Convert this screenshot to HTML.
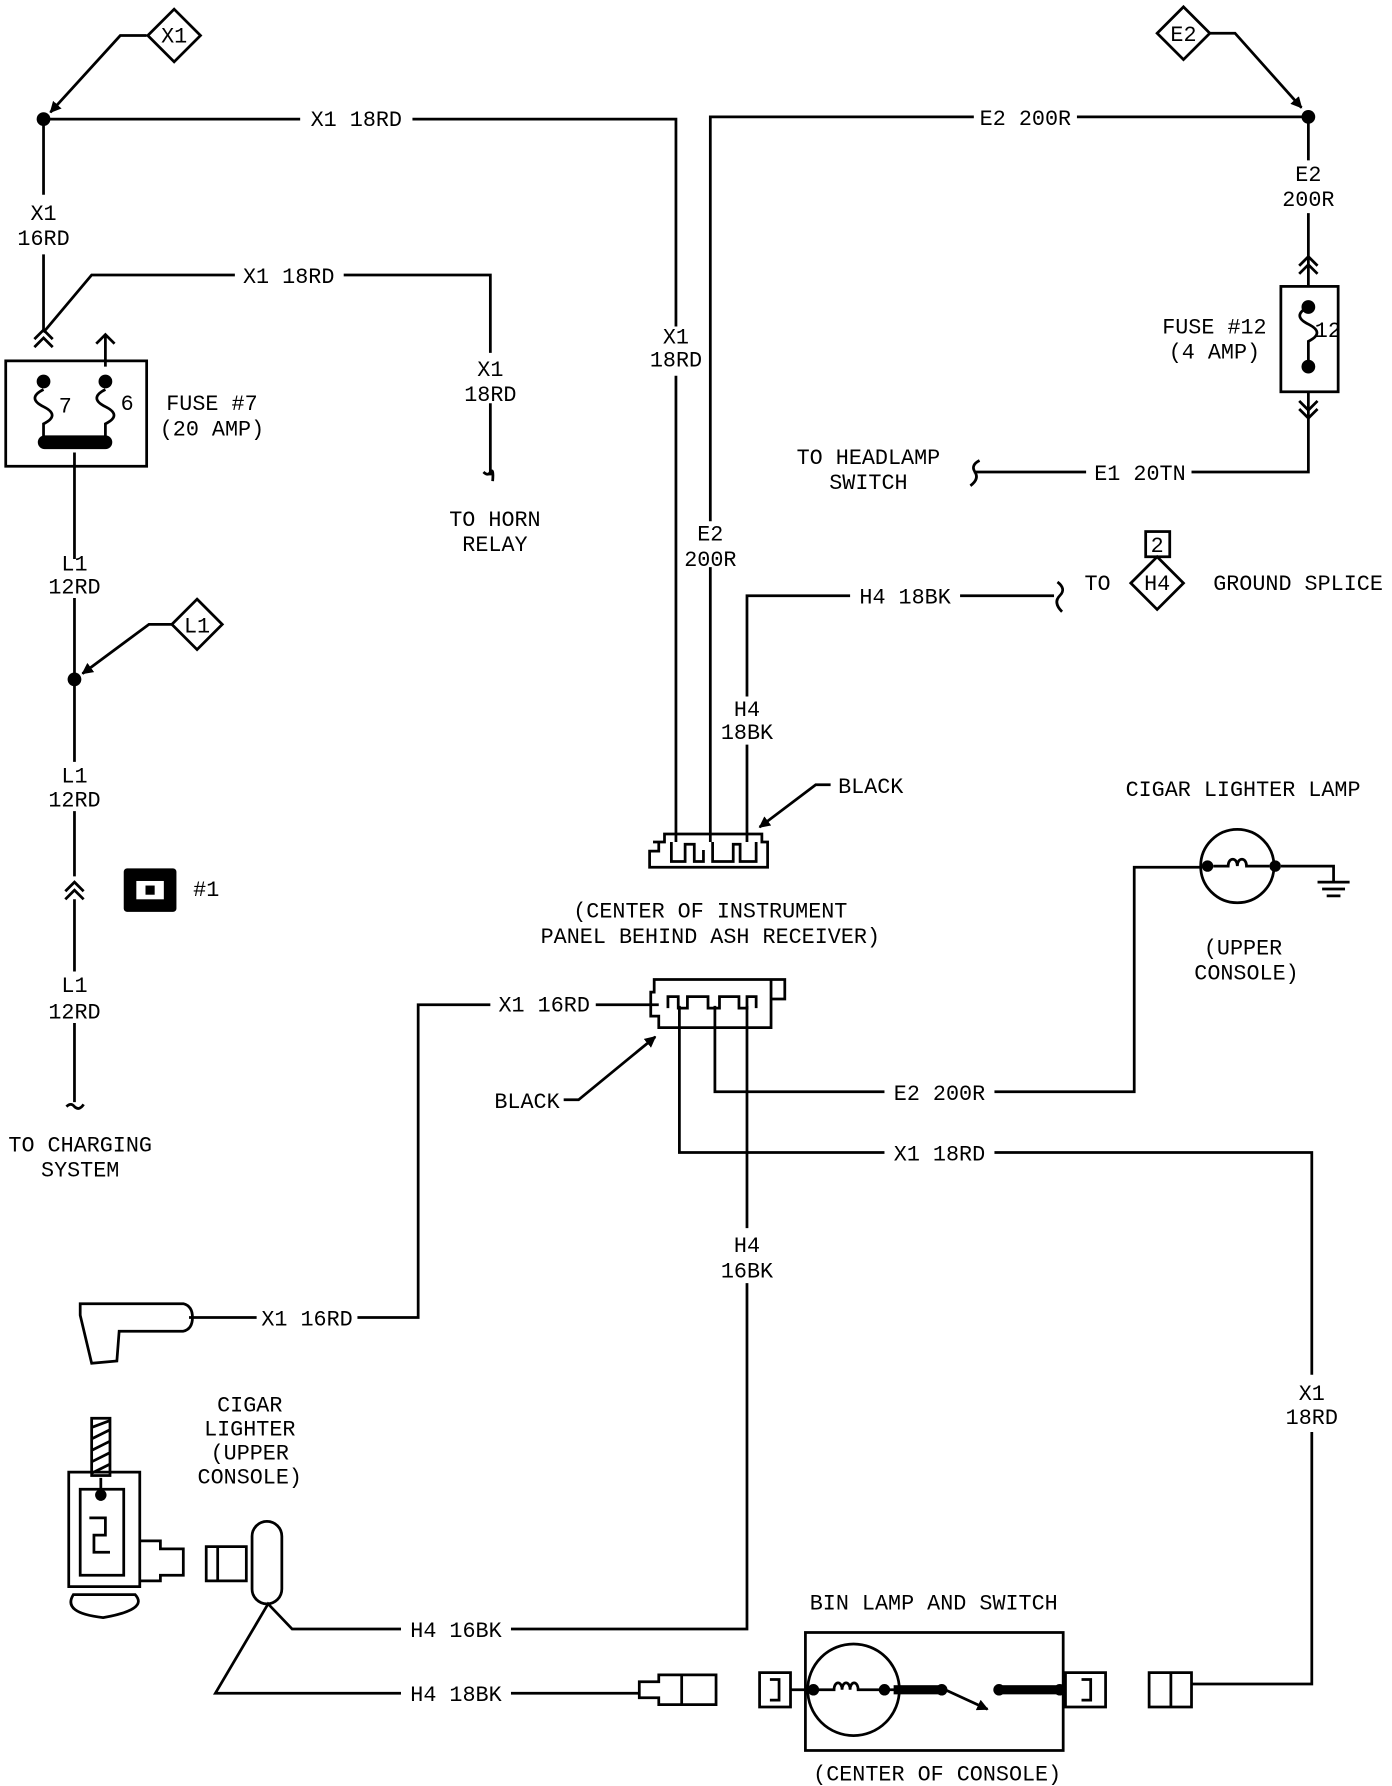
<!DOCTYPE html>
<html><head><meta charset="utf-8"><style>
html,body{margin:0;padding:0;background:#fff}
svg{display:block}
text{font-family:"Liberation Mono",monospace;font-size:19px;fill:#000}
</style></head><body>
<svg width="1392" height="1786" viewBox="0 0 1215 1559" preserveAspectRatio="none" xmlns="http://www.w3.org/2000/svg">
<defs>
<marker id="ah" markerWidth="10" markerHeight="10" refX="9" refY="5" orient="auto" markerUnits="userSpaceOnUse"><path d="M0,0 L10,5 L0,10 z" fill="#000"/></marker>
</defs>
<g stroke="#000" stroke-width="2.4" fill="none">
<path d="M152,8 L175,31 L152,54 L129,31 z"/>
<path d="M128,31 L105,31 L44,98" marker-end="url(#ah)"/>
<path d="M38,104 H262 M360,104 H590 V285 M590,328 V735"/>
<path d="M38,104 V170 M38,222 V290"/>
<path d="M30,296 L38,288 L46,296 M30,303 L38,295 L46,303"/>
<path d="M38,290 L80,240 H205 M300,240 H428 V308 M428,352 V415"/>
<path d="M422,412 q4,4 6,0 q3,-4 2,8"/>
<path d="M84,300 L92,292 L100,300 M92,292 V320"/>
<rect x="5" y="315" width="123" height="92"/>
<path d="M38,340 c-10,5 -10,10 0,15 c10,5 10,10 0,15 V382 M92,340 c-10,5 -10,10 0,15 c10,5 10,10 0,15 V382"/>
<path d="M65,395 V488 M65,522 V665 M65,708 V765 M65,785 V848 M65,893 V962"/>
<path d="M57,778 L65,770 L73,778 M57,785 L65,777 L73,785"/>
<path d="M58,966 q4,-4 7,0 q4,4 8,-2"/>
<path d="M172,523 L194,545 L172,567 L150,545 z"/>
<path d="M150,545 L130,545 L72,588" marker-end="url(#ah)"/>
<path d="M1033,6 L1056,29 L1033,52 L1010,29 z"/>
<path d="M1056,29 L1078,29 L1136,94" marker-end="url(#ah)"/>
<path d="M620,735 V495 M620,455 V102 H850 M940,102 H1142 V140 M1142,186 V250"/>
<path d="M1134,232 L1142,224 L1150,232 M1134,239 L1142,231 L1150,239"/>
<rect x="1118" y="250" width="50" height="92"/>
<path d="M1142,268 c-10,5 -10,10 0,15 c10,5 10,10 0,15 V320"/>
<path d="M1142,342 V412 H1040 M948,412 H850"/>
<path d="M1134,350 L1142,358 L1150,350 M1134,357 L1142,365 L1150,357"/>
<path d="M855,402 q-8,4 -4,10 q4,6 -4,12"/>
<path d="M652,735 V650 M652,608 V520 H742 M838,520 H920"/>
<path d="M923,508 q8,6 2,12 q-6,6 2,14"/>
<path d="M1010,486 L1033,509 L1010,532 L987,509 z"/>
<rect x="1000" y="464" width="21" height="22"/>
<path d="M570,735 H580 V728 H665 V735 H670 V757 H567 V743 H575 V735"/>
<path d="M586,735 V752 H598 V737 H606 V752 H614 V742 M622,735 V752 H640 V737 H646 V752 H660 V735"/>
<path d="M725,685 H712 L663,722" marker-end="url(#ah)"/>
<path d="M571,855 H673 V897 H575 V887 H568 V866 H571 z M673,855 H685 V872 H673"/>
<path d="M583,880 V870 H592 V880 H600 V870 H618 V880 H628 V870 H645 V880 H652 V870 H660 V880"/>
<path d="M520,877 H575 M428,877 H365 V1150 H312 M224,1150 H165"/>
<path d="M492,960 H505 L572,905" marker-end="url(#ah)"/>
<path d="M624,878 V953 H772 M868,953 H990 V757 H1048"/>
<path d="M593,878 V1006 H772 M868,1006 H1145 V1200 M1145,1250 V1470 H1040"/>
<path d="M652,878 V1072 M652,1120 V1422 H446 M350,1422 H255 L234,1400 L188,1478 H350 M446,1478 H558"/>
<circle cx="1080" cy="756" r="32"/>
<path d="M1059,756 H1072 c0,-8 8,-8 8,0 c0,-8 8,-8 8,0 H1108"/>
<path d="M1118,756 H1164 V770 M1150,770 H1178 M1154,776 H1174 M1158,782 H1170"/>
<path d="M70,1138 H160 Q168,1140 168,1150 Q168,1160 160,1162 H104 L102,1188 L80,1190 L70,1148 z"/>
<rect x="80" y="1238" width="16" height="50"/>
<path d="M80,1246 L96,1240 M80,1256 L96,1248 M80,1266 L96,1258 M80,1276 L96,1268 M80,1286 L96,1278"/>
<path d="M60,1285 H122 V1385 H60 z M88,1290 V1310 M70,1300 H108 V1375 H70 z"/>
<path d="M78,1325 H92 V1340 H82 V1355 H96"/>
<path d="M122,1345 H140 V1352 H160 V1375 H140 V1380 H122"/>
<path d="M64,1392 H118 Q130,1405 90,1412 Q54,1408 64,1392 z"/>
<path d="M180,1350 H215 V1380 H180 z M190,1350 V1380"/>
<rect x="220" y="1328" width="26" height="72" rx="13"/>
<path d="M558,1468 H575 V1462 H625 V1488 H575 V1482 H558 z M595,1462 V1488"/>
<path d="M663,1460 H690 V1490 H663 z M672,1466 H680 V1484 H672"/>
<rect x="703" y="1425" width="225" height="103"/>
<circle cx="745" cy="1475" r="40"/>
<path d="M690,1475 H728 c0,-8 7,-8 7,0 c0,-8 7,-8 7,0 c0,-8 7,-8 7,0 H825"/>
<path d="M825,1475 L862,1492" marker-end="url(#ah)"/>
<path d="M872,1475 H930 M930,1460 H965 V1490 H930 z M944,1466 H952 V1484 H944"/>
<path d="M1040,1460 H1003 V1490 H1040 z M1022,1460 V1490"/>
</g>
<g fill="#000">
<circle cx="38" cy="104" r="6"/><circle cx="65" cy="593" r="6"/><circle cx="1142" cy="102" r="6"/>
<circle cx="38" cy="333" r="6"/><circle cx="92" cy="333" r="6"/>
<circle cx="1142" cy="268" r="6"/><circle cx="1142" cy="320" r="6"/>
<circle cx="1054" cy="756" r="5"/><circle cx="1113" cy="756" r="5"/>
<circle cx="88" cy="1305" r="5"/>
<circle cx="710" cy="1475" r="5"/><circle cx="772" cy="1475" r="5"/>
<circle cx="822" cy="1475" r="5"/><circle cx="872" cy="1475" r="5"/><circle cx="925" cy="1475" r="5"/>
<rect x="33" y="380" width="65" height="12" rx="6"/>
<rect x="108" y="758" width="46" height="38" rx="3"/>
<rect x="780" y="1471" width="40" height="8"/><rect x="875" y="1471" width="48" height="8"/>
</g>
<rect x="118" y="768" width="26" height="18" fill="#fff" stroke="#000" stroke-width="2"/>
<rect x="127" y="773" width="8" height="8" fill="#000"/>
<g text-anchor="middle">
<text x="152" y="37">X1</text>
<text x="311" y="110">X1 18RD</text>
<text x="38" y="192">X1</text><text x="38" y="214">16RD</text>
<text x="252" y="247">X1 18RD</text>
<text x="428" y="328">X1</text><text x="428" y="350">18RD</text>
<text x="432" y="459">TO HORN</text><text x="432" y="481">RELAY</text>
<text x="57" y="360" font-size="17">7</text><text x="111" y="358" font-size="17">6</text>
<text x="185" y="358">FUSE #7</text><text x="185" y="380">(20 AMP)</text>
<text x="65" y="498">L1</text><text x="65" y="518">12RD</text>
<text x="172" y="552">L1</text>
<text x="65" y="683">L1</text><text x="65" y="704">12RD</text>
<text x="180" y="782">#1</text>
<text x="65" y="866">L1</text><text x="65" y="889">12RD</text>
<text x="70" y="1005">TO CHARGING</text><text x="70" y="1027">SYSTEM</text>
<text x="590" y="300">X1</text><text x="590" y="320">18RD</text>
<text x="895" y="109">E2 200R</text>
<text x="1033" y="36">E2</text>
<text x="1142" y="158">E2</text><text x="1142" y="180">200R</text>
<text x="1060" y="291">FUSE #12</text><text x="1060" y="313">(4 AMP)</text>
<text x="1159" y="294" font-size="17">12</text>
<text x="758" y="405">TO HEADLAMP</text><text x="758" y="427">SWITCH</text>
<text x="995" y="419">E1 20TN</text>
<text x="620" y="472">E2</text><text x="620" y="494">200R</text>
<text x="790" y="527">H4 18BK</text>
<text x="958" y="515">TO</text>
<text x="1010" y="515">H4</text>
<text x="1010" y="482" font-size="17">2</text>
<text x="1133" y="515">GROUND SPLICE</text>
<text x="652" y="625">H4</text><text x="652" y="645">18BK</text>
<text x="760" y="692">BLACK</text>
<text x="620" y="801">(CENTER OF INSTRUMENT</text>
<text x="620" y="823">PANEL BEHIND ASH RECEIVER)</text>
<text x="1085" y="695">CIGAR LIGHTER LAMP</text>
<text x="1085" y="833">(UPPER</text><text x="1088" y="855">CONSOLE)</text>
<text x="475" y="883">X1 16RD</text>
<text x="460" y="967">BLACK</text>
<text x="820" y="960">E2 200R</text>
<text x="820" y="1013">X1 18RD</text>
<text x="652" y="1093">H4</text><text x="652" y="1115">16BK</text>
<text x="268" y="1157">X1 16RD</text>
<text x="1145" y="1222">X1</text><text x="1145" y="1243">18RD</text>
<text x="218" y="1232">CIGAR</text><text x="218" y="1253">LIGHTER</text>
<text x="218" y="1274">(UPPER</text><text x="218" y="1295">CONSOLE)</text>
<text x="815" y="1405">BIN LAMP AND SWITCH</text>
<text x="398" y="1429">H4 16BK</text>
<text x="398" y="1485">H4 18BK</text>
<text x="818" y="1554">(CENTER OF CONSOLE)</text>
</g>
</svg>
</body></html>
